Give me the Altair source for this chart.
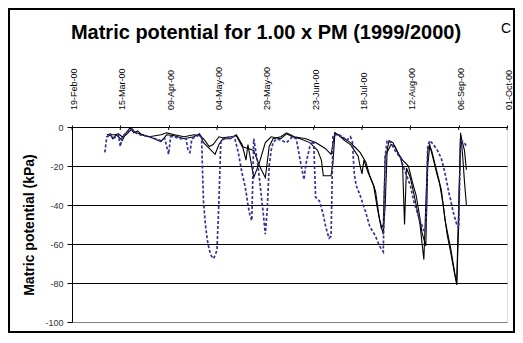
import altair as alt
import pandas as pd

# x-axis tick positions and labels
tick_dates = ["2000-02-19", "2000-03-15", "2000-04-09", "2000-05-04", "2000-05-29",
              "2000-06-23", "2000-07-18", "2000-08-12", "2000-09-06", "2000-10-01"]
tick_labels = ["19-Feb-00", "15-Mar-00", "09-Apr-00", "04-May-00", "29-May-00",
               "23-Jun-00", "18-Jul-00", "12-Aug-00", "06-Sep-00", "01-Oct-00"]
y_ticks = [0, -20, -40, -60, -80, -100]

# Sensor 1 (solid black)
b1_dates = ["2000-03-08", "2000-03-10", "2000-03-11", "2000-03-13", "2000-03-14", "2000-03-16",
            "2000-03-18", "2000-03-20", "2000-03-22", "2000-03-24", "2000-03-26", "2000-03-30",
            "2000-04-05", "2000-04-08", "2000-04-12", "2000-04-17", "2000-04-22", "2000-04-25",
            "2000-04-27", "2000-04-30", "2000-05-03", "2000-05-05", "2000-05-07", "2000-05-11",
            "2000-05-14", "2000-05-17", "2000-05-19", "2000-05-20", "2000-05-23", "2000-05-26",
            "2000-05-29", "2000-06-01", "2000-06-06", "2000-06-09", "2000-06-12", "2000-06-16",
            "2000-06-21", "2000-06-25", "2000-06-27", "2000-06-28", "2000-07-02", "2000-07-03",
            "2000-07-04", "2000-07-07", "2000-07-09", "2000-07-12", "2000-07-14", "2000-07-16",
            "2000-07-17", "2000-07-18", "2000-07-19", "2000-07-21", "2000-07-24", "2000-07-25",
            "2000-07-26", "2000-07-27", "2000-07-29", "2000-07-30", "2000-07-31", "2000-08-01",
            "2000-08-03", "2000-08-05", "2000-08-07", "2000-08-08", "2000-08-09", "2000-08-10",
            "2000-08-12", "2000-08-14", "2000-08-17", "2000-08-19", "2000-08-20", "2000-08-21",
            "2000-08-22", "2000-08-24", "2000-08-26", "2000-08-28", "2000-08-30", "2000-09-02",
            "2000-09-04", "2000-09-05", "2000-09-06", "2000-09-07", "2000-09-08", "2000-09-09",
            "2000-09-10"]
b1_vals = [-4, -3.5, -6, -4, -5, -7,
           -3, -0.5, -3, -2, -4, -5,
           -7.5, -4, -4.5, -6, -5, -3.5,
           -8, -11, -14, -9, -6, -6,
           -4, -9, -17, -9, -26, -18,
           -8, -5, -6, -3.5, -5, -6,
           -8, -12, -17, -25, -25, -18,
           -3, -5, -7, -9, -12, -15,
           -20, -24, -17, -23, -30, -33,
           -40, -47, -55, -40, -12, -7,
           -8, -12, -16, -20, -50, -21,
           -26, -35, -50, -68, -40, -12,
           -9, -17, -25, -32, -48, -63,
           -75, -81, -50, -3, -14, -28,
           -40]

# Sensor 2 (solid black)
b2_dates = ["2000-03-08", "2000-03-10", "2000-03-12", "2000-03-14", "2000-03-16", "2000-03-18",
            "2000-03-21", "2000-03-23", "2000-03-25", "2000-03-30", "2000-04-05", "2000-04-08",
            "2000-04-12", "2000-04-17", "2000-04-22", "2000-04-25", "2000-04-27", "2000-04-30",
            "2000-05-02", "2000-05-05", "2000-05-07", "2000-05-11", "2000-05-14", "2000-05-17",
            "2000-05-20", "2000-05-23", "2000-05-26", "2000-05-29", "2000-05-31", "2000-06-02",
            "2000-06-06", "2000-06-09", "2000-06-13", "2000-06-19", "2000-06-24", "2000-06-29",
            "2000-07-02", "2000-07-04", "2000-07-07", "2000-07-09", "2000-07-12", "2000-07-14",
            "2000-07-17", "2000-07-20", "2000-07-22", "2000-07-24", "2000-07-26", "2000-07-28",
            "2000-07-29", "2000-07-30", "2000-08-02", "2000-08-04", "2000-08-06", "2000-08-08",
            "2000-08-11", "2000-08-13", "2000-08-15", "2000-08-17", "2000-08-18", "2000-08-20",
            "2000-08-21", "2000-08-22", "2000-08-23", "2000-08-25", "2000-08-27", "2000-08-29",
            "2000-08-31", "2000-09-02", "2000-09-04", "2000-09-05", "2000-09-06", "2000-09-07",
            "2000-09-08", "2000-09-09", "2000-09-10"]
b2_vals = [-5, -4, -4, -3.5, -5, -4,
           -1, -3, -3.5, -5, -4, -3,
           -4, -5, -4, -4.5, -6, -10,
           -9, -5, -5.5, -5, -4.5, -10,
           -11, -12, -20, -26, -10, -6,
           -5, -3, -5, -6, -8, -11,
           -14, -3, -5, -6, -8, -10,
           -13, -18, -25, -30, -42, -52,
           -50, -15, -9, -10, -14, -17,
           -20, -28, -35, -47, -54, -61,
           -20, -10, -12, -20, -28, -40,
           -55, -65, -76, -80, -40, -4,
           -8, -12, -22]

# Sensor 3 (dashed blue)
bl_dates = ["2000-03-07", "2000-03-08", "2000-03-10", "2000-03-11", "2000-03-13", "2000-03-14",
            "2000-03-15", "2000-03-16", "2000-03-18", "2000-03-21", "2000-03-23", "2000-03-25",
            "2000-03-30", "2000-04-05", "2000-04-07", "2000-04-09", "2000-04-10", "2000-04-12",
            "2000-04-15", "2000-04-18", "2000-04-19", "2000-04-20", "2000-04-21", "2000-04-23",
            "2000-04-25", "2000-04-26", "2000-04-27", "2000-04-28", "2000-04-29", "2000-04-30",
            "2000-05-01", "2000-05-02", "2000-05-03", "2000-05-04", "2000-05-05", "2000-05-06",
            "2000-05-08", "2000-05-11", "2000-05-13", "2000-05-15", "2000-05-17", "2000-05-18",
            "2000-05-19", "2000-05-20", "2000-05-21", "2000-05-22", "2000-05-23", "2000-05-24",
            "2000-05-25", "2000-05-26", "2000-05-27", "2000-05-28", "2000-05-29", "2000-05-30",
            "2000-05-31", "2000-06-01", "2000-06-02", "2000-06-04", "2000-06-09", "2000-06-12",
            "2000-06-14", "2000-06-16", "2000-06-18", "2000-06-19", "2000-06-21", "2000-06-23",
            "2000-06-24", "2000-06-26", "2000-06-28", "2000-06-29", "2000-06-30", "2000-07-01",
            "2000-07-02", "2000-07-03", "2000-07-06", "2000-07-08", "2000-07-10", "2000-07-12",
            "2000-07-13", "2000-07-14", "2000-07-15", "2000-07-17", "2000-07-20", "2000-07-22",
            "2000-07-25", "2000-07-27", "2000-07-29", "2000-07-30", "2000-07-31", "2000-08-02",
            "2000-08-04", "2000-08-07", "2000-08-09", "2000-08-12", "2000-08-14", "2000-08-17",
            "2000-08-19", "2000-08-20", "2000-08-21", "2000-08-22", "2000-08-24", "2000-08-26",
            "2000-08-28", "2000-08-30", "2000-09-01", "2000-09-02", "2000-09-03", "2000-09-05",
            "2000-09-06", "2000-09-07", "2000-09-09", "2000-09-10"]
bl_vals = [-13, -5, -4, -6, -5, -4,
           -10, -5, -3, -1, -3, -4,
           -5, -7, -6, -14, -5, -5,
           -6, -6, -12, -13, -6, -5,
           -4, -5, -38, -50, -58, -63,
           -66, -67.5, -66, -63, -38, -7,
           -6, -5, -5, -13, -24, -28,
           -33, -40, -45, -48, -6, -12,
           -18, -27, -36, -45, -55, -42,
           -20, -12, -8, -6, -8, -5,
           -6, -17, -27, -19, -10, -7,
           -36, -38, -45, -50, -54, -57,
           -56, -4, -4, -5, -7, -5,
           -7, -24, -30, -35, -44, -51,
           -56, -61, -64, -15, -7, -8,
           -12, -16, -22, -30, -39, -48,
           -53, -53, -10, -7, -9, -12,
           -16, -24, -34, -38, -43, -50,
           -52, -7, -8, -10]

title_text = "Matric potential for 1.00 x PM (1999/2000)"
corner_text = "C"


def series(dates, vals):
    return pd.DataFrame({"date": pd.to_datetime(dates), "value": vals})


def dt(s):
    return alt.DateTime(year=int(s[:4]), month=int(s[5:7]), date=int(s[8:10]))


tick_dt = [dt(s) for s in tick_dates]
FONT = "Liberation Sans"
x_scale = alt.Scale(domain=[tick_dt[0], tick_dt[-1]], nice=False)
y_scale = alt.Scale(domain=[-100, 0], nice=False, zero=False)

x_enc = alt.X(
    "date:T", scale=x_scale,
    axis=alt.Axis(orient="top", values=tick_dt, labels=False, tickSize=2, tickColor="black",
                  domainColor="black", grid=False),
    title=None,
)
y_enc = alt.Y(
    "value:Q", scale=y_scale,
    axis=alt.Axis(
        values=y_ticks, labelExpr="'' + datum.value", labelFontSize=9, labelFont=FONT,
        labelColor="#333", labelPadding=4, tickSize=5, tickColor="black",
        domainColor="black", grid=True,
        gridColor={"condition": {"test": "datum.value == -100", "value": "#808080"},
                   "value": "black"},
        gridWidth=1,
        title="Matric potential (kPa)", titleFont=FONT, titleFontSize=14,
        titleFontWeight="bold", titleColor="black", titlePadding=8,
    ),
)

line1 = alt.Chart(series(b1_dates, b1_vals)).mark_line(color="black", strokeWidth=1.1).encode(x=x_enc, y=y_enc)
line2 = alt.Chart(series(b2_dates, b2_vals)).mark_line(color="black", strokeWidth=1.1).encode(x=x_enc, y=y_enc)
line3 = alt.Chart(series(bl_dates, bl_vals)).mark_line(
    color="#333399", strokeWidth=1.7, strokeDash=[3, 2]).encode(x=x_enc, y=y_enc)

tick_df = pd.DataFrame({"date": pd.to_datetime(tick_dates), "label": tick_labels,
                        "value": 0, "value2": -1.5})
inner_ticks = alt.Chart(tick_df).mark_rule(color="black", strokeWidth=1).encode(
    x=x_enc, y=y_enc, y2="value2:Q")
x_labels = alt.Chart(tick_df).mark_text(
    font=FONT, fontSize=9, angle=270, align="left", baseline="top", color="black",
    dy=-2).encode(x=x_enc, y=alt.value(-17), text="label:N")

one = pd.DataFrame({"title": [title_text], "corner": [corner_text]})
frame = alt.Chart(one).mark_rect(filled=False, stroke="black", strokeWidth=2).encode(
    x=alt.value(-63), x2=alt.value(442), y=alt.value(-118), y2=alt.value(205))
title = alt.Chart(one).mark_text(font=FONT, fontSize=20, fontWeight="bold", align="center",
                                 baseline="alphabetic", color="black").encode(
    text="title:N", x=alt.value(194), y=alt.value(-88))
corner = alt.Chart(one).mark_text(font=FONT, fontSize=14, align="center", baseline="alphabetic",
                                  color="black").encode(
    text="corner:N", x=alt.value(434), y=alt.value(-94))

chart = alt.layer(frame, line1, line2, line3, inner_ticks, x_labels, title, corner).properties(
    width=435, height=195, padding=0,
).configure_view(stroke="#808080", strokeWidth=1).configure(background="white")

chart.save("out.html", embed_options={"renderer": "svg", "actions": False})
